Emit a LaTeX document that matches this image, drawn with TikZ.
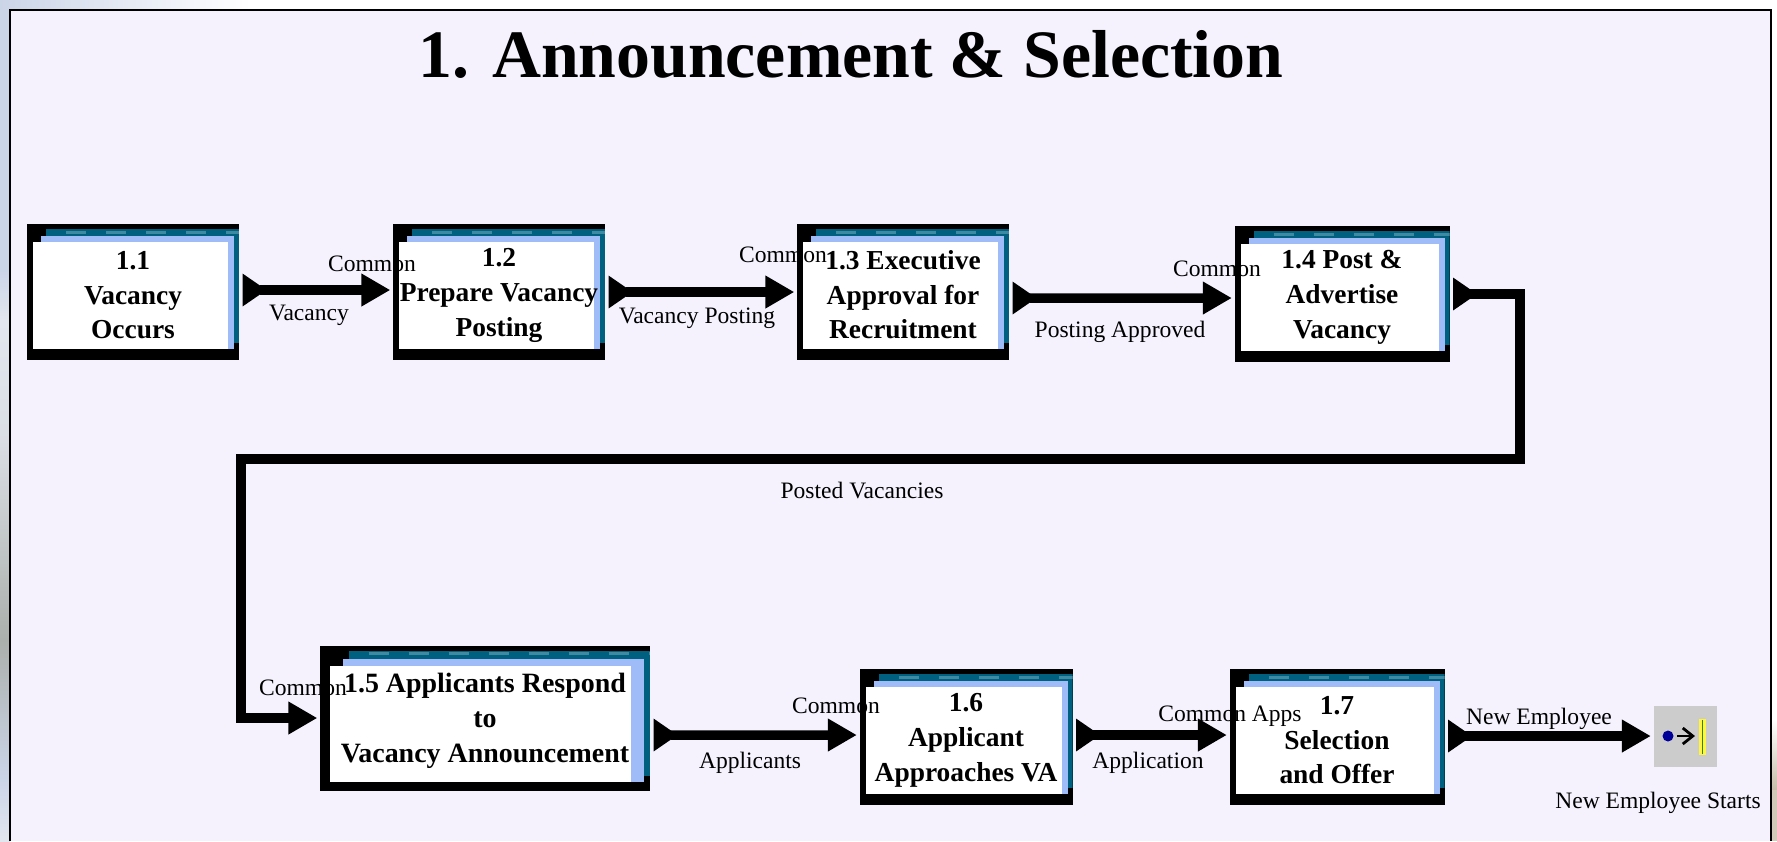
\documentclass[tikz,border=0pt]{standalone}
\usepackage{fontspec}
\setmainfont{Liberation Serif}
\usetikzlibrary{arrows.meta}
\definecolor{pagebg}{HTML}{F5F2FE}
\definecolor{tealbar}{HTML}{00607F}
\definecolor{tealdot}{HTML}{3F8AA3}
\definecolor{paleblue}{HTML}{A0BCF8}
\definecolor{icongray}{HTML}{CCCCCC}
\definecolor{edgeblue}{HTML}{CBD5E8}
\definecolor{edgepale}{HTML}{E2E6EE}
\definecolor{edgegray}{HTML}{ABB0AC}
\definecolor{edgetan}{HTML}{C8BBA8}
\newcommand\topgap{\rule{0pt}{7pt}}
\newcommand\boxlayers[9]{%
\fill[tealbar] ([xshift=#8*0.1mm,yshift=-5*0.1mm]path picture bounding box.north west) rectangle ([yshift=#9*0.1mm]path picture bounding box.south east);
\draw[tealdot,line width=0.3mm,dash pattern=on 2mm off 2mm] ([xshift=#8*0.1mm+2mm,yshift=-8*0.1mm]path picture bounding box.north west) -- ([yshift=-8*0.1mm]path picture bounding box.north east);
\fill[paleblue] ([xshift=#5*0.1mm,yshift=-#7*0.1mm]path picture bounding box.north west) rectangle ([xshift=-#6*0.1mm,yshift=#4*0.1mm]path picture bounding box.south east);
\fill[white] ([xshift=#1*0.1mm,yshift=-#3*0.1mm]path picture bounding box.north west) rectangle ([xshift=-#2*0.1mm,yshift=#4*0.1mm]path picture bounding box.south east);
}
\tikzset{
  procbox/.style={fill=black,inner sep=0pt,align=center,font=\fontsize{7.8}{9.9}\selectfont\bfseries},
  smallbox/.style={procbox,minimum width=21.2mm,minimum height=13.6mm,
    path picture={\boxlayers{6}{11}{18}{11}{14}{5}{12}{19}{17}}},
  bigbox/.style={procbox,font=\fontsize{7.95}{9.9}\selectfont\bfseries,minimum width=33mm,minimum height=14.5mm,
    path picture={\boxlayers{10}{19}{20}{9}{23}{6}{13}{29}{15}}},
  flow/.style={line width=0.95mm,
    {Triangle[reversed,length=2.4mm,width=3.1mm]}-{Triangle[length=2.9mm,width=3.1mm]},shorten <=0.3mm,shorten >=0.2mm},
  lbl/.style={inner sep=0pt,font=\fontsize{6.7}{8}\selectfont}
}
\begin{document}
\begin{tikzpicture}[x=0.1mm,y=-0.1mm]
\useasboundingbox (0,0) rectangle (1777,841);
\fill[white] (0,0) rectangle (1777,841);
\shade[left color=edgeblue,right color=white] (0,0) rectangle (250,10);
\fill[edgeblue] (0,10) rectangle (10,270);
\shade[top color=edgeblue,bottom color=edgepale] (0,270) rectangle (10,320);
\shade[top color=edgepale,bottom color=edgepale!85!edgegray] (0,320) rectangle (10,440);
\shade[top color=edgepale!85!edgegray,bottom color=edgegray] (0,440) rectangle (10,640);
\shade[top color=edgegray,bottom color=edgeblue] (0,640) rectangle (10,780);
\shade[top color=edgeblue,bottom color=edgepale] (0,780) rectangle (10,841);
\shade[top color=white,bottom color=edgetan] (1771,720) rectangle (1777,790);
\fill[edgetan!80!white] (1771,790) rectangle (1777,841);
\fill[pagebg] (10,10) rectangle (1771,841);
\draw[line width=0.28mm,black] (10,841) -- (10,10) -- (1771,10) -- (1771,841);
\node[inner sep=0pt,font=\fontsize{19.3}{22}\selectfont\bfseries] (title) at (851,54) {1. Announcement \& Selection};
\node[smallbox] (b11) at (133,292) {\topgap 1.1\\Vacancy\\Occurs};
\node[smallbox] (b12) at (499,292) {\topgap 1.2\\Prepare Vacancy\\Posting};
\node[smallbox] (b13) at (903,292) {\topgap 1.3 Executive\\Approval for\\Recruitment};
\node[smallbox,minimum width=21.5mm] (b14) at (1342,294) {\topgap 1.4 Post \&\\Advertise\\Vacancy};
\node[bigbox] (b15) at (485,718) {\topgap 1.5 Applicants Respond\\to\\Vacancy Announcement};
\node[smallbox,minimum width=21.3mm] (b16) at (966,737) {\topgap 1.6\\Applicant\\Approaches VA};
\node[smallbox,minimum width=21.5mm] (b17) at (1337,737) {\topgap 1.7\\Selection\\and Offer};
\node[fill=icongray,inner sep=0pt,minimum width=6.3mm,minimum height=6.1mm] (icon) at (1685,736) {};
\fill[blue!60!black] (1668,736) circle (5.5);
\draw[line width=0.28mm,-{Straight Barb[length=1mm,width=1.6mm]}] (1677,736) -- (1695,736);
\fill[yellow!75!white] (1699,719) rectangle (1706,755);
\draw[green!40!black!80!yellow,line width=0.12mm] (1702.5,720) -- (1702.5,754);
\coordinate (bendr) at (1520,459);
\coordinate (bendl) at (241,459);
\draw[flow] ([yshift=0.2mm]b11.east) -- ([yshift=0.2mm]b12.west);
\draw[flow] (b12.east) -- (b13.west);
\draw[flow] ([yshift=-0.6mm]b13.east) -- ([yshift=-0.4mm]b14.west);
\draw[flow] (b14.east) -| (bendr) -- (bendl) |- (b15.west);
\draw[flow] ([yshift=-1.7mm]b15.east) -- ([yshift=0.2mm]b16.west);
\draw[flow] ([yshift=0.2mm]b16.east) -- ([yshift=0.2mm]b17.west);
\draw[flow] ([yshift=0.1mm]b17.east) -- (icon.west);
\node[lbl] (c1) at (372,264) {Common};
\node[lbl] (c2) at (783,255) {Common};
\node[lbl] (c3) at (1217,269) {Common};
\node[lbl] (c4) at (303,688) {Common};
\node[lbl] (c5) at (836,706) {Common};
\node[lbl] (c6) at (1230,716) {Common Apps};
\node[lbl] (f1) at (309,315) {Vacancy};
\node[lbl] (f2) at (697,318) {Vacancy Posting};
\node[lbl] (f3) at (1120,332) {Posting Approved};
\node[lbl] (f4) at (862,490) {Posted Vacancies};
\node[lbl] (f5) at (750,763) {Applicants};
\node[lbl] (f6) at (1148,763) {Application};
\node[lbl] (f7) at (1539,719) {New Employee};
\node[lbl] (f8) at (1658,803) {New Employee Starts};
\end{tikzpicture}
\end{document}
